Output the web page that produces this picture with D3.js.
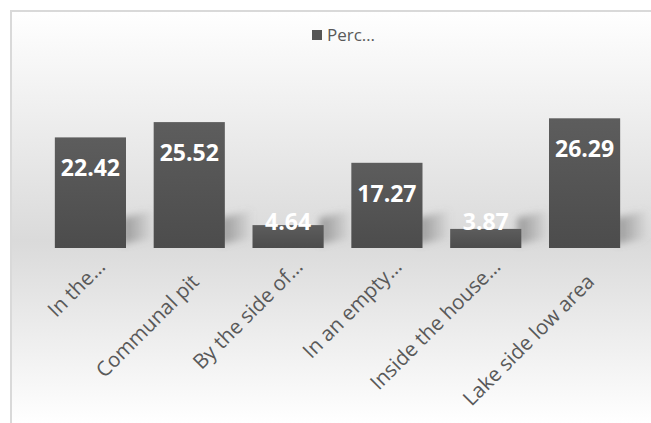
<!DOCTYPE html>
<html>
<head>
<meta charset="utf-8">
<script src="https://cdn.jsdelivr.net/npm/d3@7"></script>
<style>
  html, body { margin: 0; padding: 0; background: #ffffff; }
  svg { display: block; }
</style>
</head>
<body>
<svg id="chart" width="651" height="423"></svg>
<script>
// Where household waste is disposed of (percentage of respondents)
const categories = [
  "In the…",
  "Communal pit",
  "By the side of…",
  "In an empty…",
  "Inside the house…",
  "Lake side low area"
];
const percentages = [22.42, 25.52, 4.64, 17.27, 3.87, 26.29];
const seriesName = "Perc…";

const W = 651, H = 423;
const svg = d3.select("#chart");
const defs = svg.append("defs");

// chart-area background: white at top, grey band around the axis, white again at bottom
const bg = defs.append("linearGradient")
  .attr("id", "bgGrad").attr("gradientUnits", "userSpaceOnUse")
  .attr("x1", 0).attr("y1", 10).attr("x2", 0).attr("y2", 423);
bg.append("stop").attr("offset", 0).attr("stop-color", "#ffffff");
bg.append("stop").attr("offset", 0.56).attr("stop-color", "#dadada");
bg.append("stop").attr("offset", 1).attr("stop-color", "#ffffff");

const barGrad = defs.append("linearGradient")
  .attr("id", "barGrad").attr("x1", 0).attr("y1", 0).attr("x2", 0).attr("y2", 1);
barGrad.append("stop").attr("offset", 0).attr("stop-color", "#5d5d5d");
barGrad.append("stop").attr("offset", 1).attr("stop-color", "#4c4c4c");

// shadow fades out to the right of each bar
const shGrad = defs.append("linearGradient")
  .attr("id", "shGrad").attr("x1", 0).attr("y1", 0).attr("x2", 1).attr("y2", 0);
shGrad.append("stop").attr("offset", 0).attr("stop-color", "#808080").attr("stop-opacity", 0.75);
shGrad.append("stop").attr("offset", 1).attr("stop-color", "#808080").attr("stop-opacity", 0);

const blur = defs.append("filter").attr("id", "soft")
  .attr("x", "-50%").attr("y", "-50%").attr("width", "200%").attr("height", "200%");
blur.append("feGaussianBlur").attr("stdDeviation", 3.5);

svg.append("rect")
  .attr("x", 11).attr("y", 11).attr("width", W + 20).attr("height", H + 20)
  .attr("fill", "url(#bgGrad)")
  .attr("stroke", "#d9d9d9").attr("stroke-width", 2);

// scales
const baseY = 248;
const x = d3.scaleBand().domain(categories).range([41, 634])
  .paddingInner(0.28).paddingOuter(0.14);
const y = d3.scaleLinear().domain([0, 30]).range([baseY, 100]);

const data = categories.map((c, i) => ({ cat: c, v: percentages[i] }));

// soft cast shadows behind each bar, leaning up to the right
svg.append("g").selectAll("path").data(data).join("path")
  .attr("d", d => {
    const r = x(d.cat) + x.bandwidth();
    return `M${r - 4},${baseY - 4} L${r - 4},${baseY - 30} L${r + 28},${baseY - 38} L${r + 28},${baseY - 10} Z`;
  })
  .attr("fill", "url(#shGrad)")
  .attr("filter", "url(#soft)");

// bars
svg.append("g").selectAll("rect").data(data).join("rect")
  .attr("x", d => x(d.cat))
  .attr("y", d => y(d.v))
  .attr("width", x.bandwidth())
  .attr("height", d => baseY - y(d.v))
  .attr("fill", "url(#barGrad)");

// value labels, inside end
svg.append("g").selectAll("text").data(data).join("text")
  .attr("x", d => x(d.cat) + x.bandwidth() / 2)
  .attr("y", d => Math.min(y(d.v) + 39, baseY - 18))
  .attr("text-anchor", "middle")
  .attr("font-family", "'Open Sans', sans-serif")
  .attr("font-weight", 700)
  .attr("font-size", 23)
  .attr("fill", "#ffffff")
  .text(d => d.v.toFixed(2));

// category axis labels, rotated; shortened labels fill their whole slot
const xAxis = d3.axisBottom(x).tickSize(0).tickPadding(0);
const gx = svg.append("g").attr("transform", `translate(0,${baseY})`).call(xAxis);
gx.select(".domain").remove();
gx.selectAll(".tick text")
  .attr("font-family", "'Open Sans', sans-serif")
  .attr("font-size", 20.5)
  .attr("fill", "#595959")
  .attr("text-anchor", "end")
  .attr("dy", 0)
  .attr("y", 0)
  .attr("transform", d => d.endsWith("…")
    ? "translate(16,20) rotate(-45)"
    : "translate(11,35) rotate(-45)");

// legend
const lg = svg.append("g");
lg.append("rect").attr("x", 312).attr("y", 30).attr("width", 10).attr("height", 10)
  .attr("fill", "#555555");
lg.append("text").attr("x", 327).attr("y", 41)
  .attr("font-family", "'Open Sans', sans-serif")
  .attr("font-size", 17)
  .attr("fill", "#595959")
  .text(seriesName);
</script>
</body>
</html>
